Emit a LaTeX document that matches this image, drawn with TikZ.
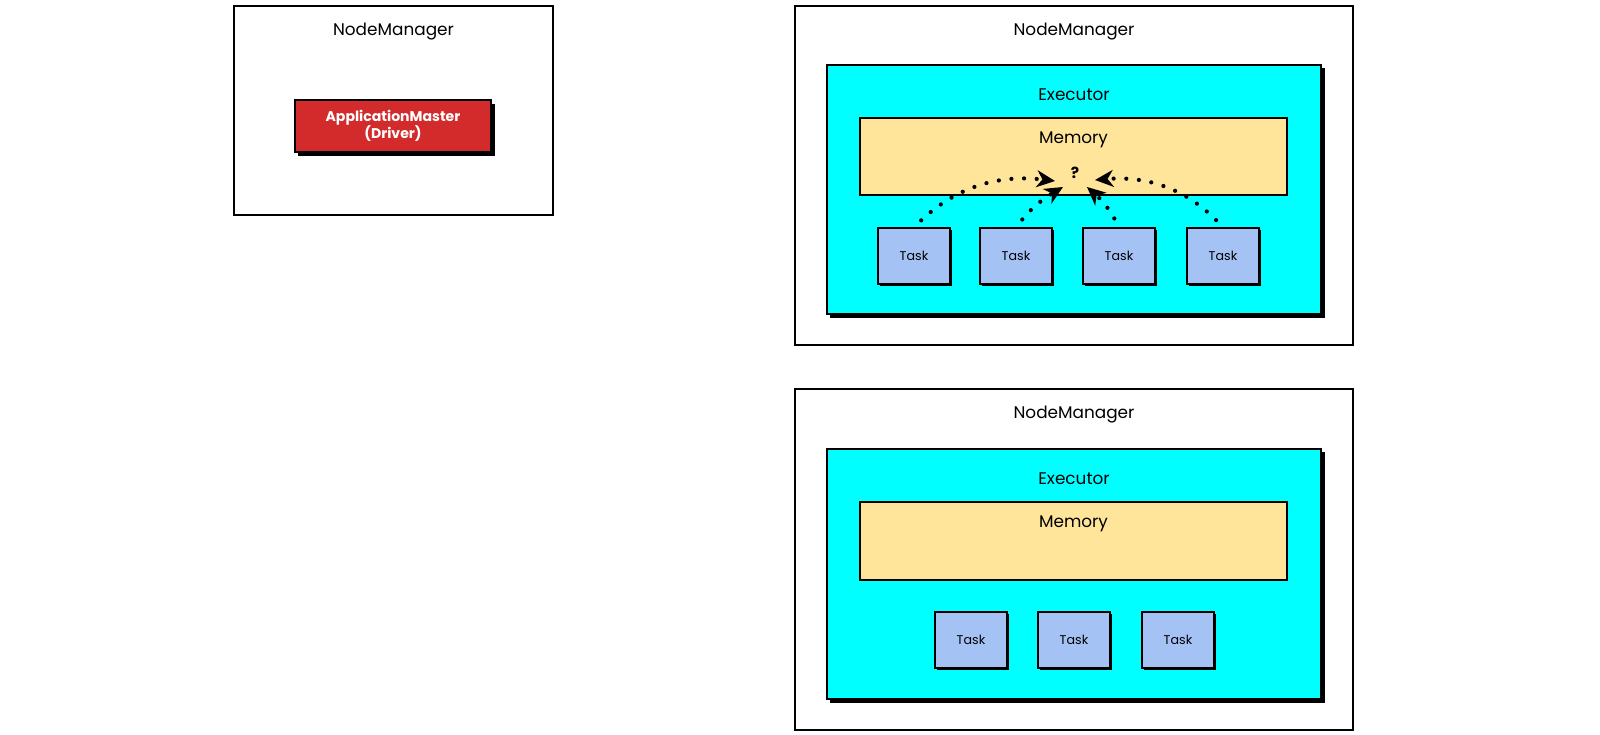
\documentclass[tikz,border=0pt]{standalone}
\usepackage{fontspec}
\setmainfont{Poppins}
\usetikzlibrary{arrows.meta,positioning,shadows}
\definecolor{execcyan}{RGB}{0,255,255}
\definecolor{memyellow}{RGB}{255,229,153}
\definecolor{taskblue}{RGB}{164,194,244}
\definecolor{amred}{RGB}{211,43,43}
\tikzset{
    %Define standard arrow tip
    >={Stealth[length=13pt,width=12pt,inset=4pt]},
    % Define dotted arrow style
    pil/.style={
           ->,
           line width=3pt,
           line cap=round,
           dash pattern=on 0pt off 9pt,
           shorten <=7pt},
    % black offset shadow
    blackshadow/.style={drop shadow={shadow xshift=#1, shadow yshift=-#1, fill=black, opacity=1}},
    blackshadow/.default=2.5pt,
    % boxes
    nm/.style={draw, line width=1.3pt, fill=white, inner sep=0pt},
    exe/.style={draw, line width=1.3pt, fill=execcyan, inner sep=0pt, blackshadow, minimum width=12.35cm},
    mem/.style={draw, line width=1.3pt, fill=memyellow, inner sep=0pt, minimum width=10.675cm},
    task/.style={draw, line width=1.3pt, fill=taskblue, blackshadow=1.5pt, minimum width=1.8cm, minimum height=1.4cm, font=\fontsize{9}{11}\selectfont},
    am/.style={draw, line width=1.3pt, fill=amred, text=white, blackshadow, align=center, font=\bfseries\fontsize{10}{12}\selectfont},
    title/.style={inner sep=0pt, font=\fontsize{12}{14}\selectfont}
}
\begin{document}
\begin{tikzpicture}[x=0.025cm,y=-0.025cm]
\useasboundingbox (0,0) rectangle (1600,735);

% driver node
\node[nm, minimum width=7.975cm, minimum height=5.225cm] (nm1) at (393.5,110.5) {};
\node[title, below=0.45cm of nm1.north] (nm1t) {NodeManager};
\node[am, minimum width=4.9cm, minimum height=1.3cm] (am) at (393,126) {ApplicationMaster\\(Driver)};

% first worker
\node[nm, minimum width=13.95cm, minimum height=8.475cm] (nm2) at (1074,175.5) {};
\node[title, below=0.45cm of nm2.north] (nm2t) {NodeManager};
\node[exe, minimum height=6.225cm] (exe2) at (1074,189.5) {};
\node[title, below=0.6cm of exe2.north] (exe2t) {Executor};
\node[mem, minimum height=1.925cm] (mem2) at (1073.5,156.5) {};
\node[title, below=0.35cm of mem2.north] (mem2t) {Memory};
\node[font=\bfseries\fontsize{11}{13}\selectfont] (ask) at (1075,173) {?};

\node[task] (t1) at (914,256) {Task};
\node[task] (t2) at (1016,256) {Task};
\node[task] (t3) at (1119,256) {Task};
\node[task] (t4) at (1223,256) {Task};

\coordinate (q1) at (1055,181);
\coordinate (q2) at (1063,187);
\coordinate (q3) at (1087,187);
\coordinate (q4) at (1095,180);

\draw[pil] (t1.north) to[bend left=25] (q1);
\draw[pil] (t2.north) to[bend left=10] (q2);
\draw[pil] (t3.north) to[bend right=10] (q3);
\draw[pil] (t4.north) to[bend right=25] (q4);

% second worker
\node[nm, minimum width=13.95cm, minimum height=8.525cm] (nm3) at (1074,559.5) {};
\node[title, below=0.45cm of nm3.north] (nm3t) {NodeManager};
\node[exe, minimum height=6.25cm] (exe3) at (1074,574) {};
\node[title, below=0.6cm of exe3.north] (exe3t) {Executor};
\node[mem, minimum height=1.95cm] (mem3) at (1073.5,541) {};
\node[title, below=0.35cm of mem3.north] (mem3t) {Memory};

\node[task] (t5) at (971,640) {Task};
\node[task] (t6) at (1074,640) {Task};
\node[task] (t7) at (1178,640) {Task};

\end{tikzpicture}
\end{document}
